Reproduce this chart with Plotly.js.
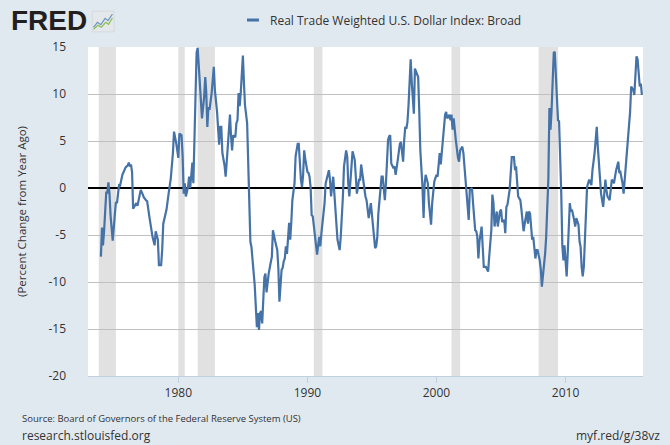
<!DOCTYPE html>
<html>
<head>
<meta charset="utf-8">
<script src="https://cdn.plot.ly/plotly-3.0.1.min.js"></script>
<style>
html,body{margin:0;padding:0;background:#e1e9f0;}
#chart{width:670px;height:445px;}
</style>
</head>
<body>
<div id="chart"></div>
<script>
// Months (first of month) and year-over-year percent change
var dates = [
'1974-01','1974-02','1974-03','1974-04','1974-06','1974-07','1974-08','1974-09','1974-10','1974-12',
'1975-03','1975-04','1975-06','1975-07','1975-09','1975-10','1975-12',
'1976-02','1976-03','1976-04','1976-05','1976-06','1976-07','1976-08','1976-10','1976-11','1976-12',
'1977-02','1977-04','1977-05','1977-07','1977-08','1977-10','1977-12',
'1978-01','1978-03','1978-04','1978-06','1978-07','1978-09','1978-10','1978-11',
'1979-02','1979-04','1979-05','1979-06','1979-08','1979-09','1979-11',
'1980-01','1980-02','1980-04','1980-05','1980-06','1980-07','1980-08','1980-10','1980-11','1980-12',
'1981-02','1981-03','1981-04','1981-05','1981-06','1981-07','1981-08','1981-10','1981-11',
'1982-01','1982-02','1982-03','1982-04','1982-05','1982-06','1982-08','1982-09','1982-10','1982-11',
'1983-01','1983-03','1983-04','1983-05','1983-06','1983-08','1983-09','1983-11',
'1984-01','1984-02','1984-03','1984-04','1984-06','1984-07','1984-08','1984-09','1984-10','1984-11',
'1985-01','1985-02','1985-03','1985-05','1985-06','1985-07','1985-08','1985-09','1985-12',
'1986-02','1986-03','1986-04','1986-05','1986-06','1986-07','1986-08','1986-09','1986-10','1986-11',
'1987-01','1987-02','1987-03','1987-04','1987-05','1987-07','1987-09','1987-10','1987-11',
'1988-01','1988-02','1988-03','1988-04','1988-05','1988-06','1988-08','1988-09','1988-10','1988-11',
'1989-01','1989-02','1989-04','1989-05','1989-07','1989-08','1989-09','1989-10','1989-11',
'1990-01','1990-02','1990-03','1990-04','1990-05','1990-06','1990-08','1990-09','1990-10','1990-12',
'1991-01','1991-02','1991-04','1991-05','1991-06','1991-07','1991-09','1991-10','1991-11',
'1992-01','1992-02','1992-04','1992-05','1992-07','1992-08','1992-10','1992-11',
'1993-01','1993-02','1993-03','1993-04','1993-06','1993-07','1993-09','1993-10','1993-11',
'1994-01','1994-02','1994-03','1994-04','1994-06','1994-07','1994-08','1994-09','1994-10','1994-12',
'1995-01','1995-02','1995-03','1995-04','1995-05','1995-06','1995-07','1995-09','1995-10','1995-11','1995-12',
'1996-01','1996-02','1996-04','1996-05','1996-06','1996-07','1996-09','1996-10','1996-11',
'1997-01','1997-03','1997-04','1997-06','1997-07','1997-08','1997-09','1997-10','1997-11',
'1998-01','1998-02','1998-03','1998-04','1998-05','1998-06','1998-08','1998-09','1998-10','1998-12',
'1999-01','1999-02','1999-03','1999-05','1999-06','1999-08','1999-09','1999-11',
'2000-01','2000-02','2000-04','2000-05','2000-06','2000-07','2000-09','2000-10','2000-11',
'2001-01','2001-02','2001-03','2001-04','2001-05','2001-06','2001-07','2001-09','2001-10','2001-11',
'2002-01','2002-02','2002-03','2002-04','2002-05','2002-07','2002-08','2002-10','2002-11','2002-12',
'2003-01','2003-02','2003-03','2003-04','2003-05','2003-07','2003-08','2003-09','2003-11',
'2004-01','2004-02','2004-04','2004-05','2004-06','2004-07','2004-08','2004-09','2004-10','2004-12',
'2005-01','2005-02','2005-04','2005-05','2005-06','2005-07','2005-09','2005-10','2005-11',
'2006-01','2006-02','2006-03','2006-04','2006-05','2006-06','2006-07','2006-08','2006-10','2006-11',
'2007-01','2007-02','2007-03','2007-04','2007-05','2007-06','2007-07','2007-09','2007-10','2007-11',
'2008-01','2008-02','2008-03','2008-04','2008-05','2008-06','2008-07','2008-09','2008-10','2008-11','2008-12',
'2009-01','2009-02','2009-03','2009-04','2009-05','2009-06','2009-07','2009-08','2009-09','2009-10','2009-11','2009-12',
'2010-01','2010-02','2010-03','2010-05','2010-06','2010-07','2010-09','2010-10','2010-11',
'2011-01','2011-02','2011-03','2011-04','2011-05','2011-06','2011-07','2011-09','2011-10','2011-11',
'2012-01','2012-02','2012-04','2012-05','2012-06','2012-07','2012-09','2012-10','2012-12',
'2013-01','2013-02','2013-03','2013-04','2013-06','2013-07','2013-08','2013-10','2013-11','2013-12',
'2014-02','2014-03','2014-04','2014-05','2014-06','2014-07','2014-08','2014-10','2014-11','2014-12',
'2015-01','2015-02','2015-04','2015-05','2015-06','2015-07','2015-08','2015-09','2015-10','2015-11','2015-12'
];
var values = [
-7.3,-4.2,-6.1,-4.6,-0.5,-0.5,0.6,-0.6,-2.9,-5.6,
-1.5,-1.6,0.4,0.3,1.4,1.7,2.2,
2.4,2.7,2.3,2.5,1.7,-2.2,-2.0,-1.6,-1.9,-1.4,
-0.2,-0.7,-1.0,-1.3,-1.4,-3.0,-4.8,
-5.2,-6.1,-4.6,-5.5,-8.2,-8.2,-6.6,-3.8,
-2.3,-0.6,0.0,1.0,3.7,6.0,4.8,
3.2,5.8,5.6,3.5,-0.6,0.5,-0.9,0.1,1.2,0.0,
2.7,0.5,5.8,11.2,14.4,14.9,12.9,9.7,7.4,
9.7,11.8,10.2,6.5,8.6,8.3,10.1,11.8,12.9,10.4,
8.1,4.6,6.5,6.5,3.7,2.4,1.2,4.4,
7.8,5.5,4.0,5.6,5.4,6.9,7.2,10.1,8.7,10.1,
14.1,11.1,8.8,6.9,2.1,0.1,-5.7,-6.3,-10.3,
-14.8,-13.3,-15.1,-13.3,-13.1,-14.4,-11.9,-9.5,-9.1,-11.1,
-9.1,-8.2,-7.9,-7.3,-4.5,-5.6,-6.6,-8.5,-12.1,
-8.7,-8.5,-7.8,-7.5,-6.2,-7.0,-3.7,-5.5,-3.7,-1.3,
0.5,3.4,4.7,4.7,0.9,0.1,1.4,4.0,3.1,
1.7,1.6,1.2,0.1,-2.9,-3.0,-5.2,-6.6,-7.1,-5.2,
-6.2,-4.8,-3.0,-1.6,0.5,0.9,1.9,0.9,-0.9,
1.2,-0.5,-3.4,-5.5,-6.6,-5.2,-0.9,2.3,
4.0,3.3,0.5,-0.9,2.3,3.9,3.0,1.2,-0.6,
0.9,0.9,2.5,1.6,0.1,-0.9,-1.3,-2.7,-3.2,-1.6,
-2.7,-3.8,-5.5,-6.4,-6.2,-5.2,-2.7,-0.2,1.2,1.2,-0.6,
-1.3,0.5,5.1,5.5,5.6,2.6,2.1,2.3,1.4,
3.0,4.7,4.9,2.8,5.1,6.5,6.3,7.0,8.8,
13.7,11.2,8.8,7.9,12.7,12.3,11.8,8.1,4.0,0.1,
-3.2,0.5,1.4,0.5,-1.6,-3.9,-1.6,0.7,
1.4,1.2,3.7,2.5,3.7,5.5,7.8,8.1,7.4,
7.8,7.2,7.8,6.2,7.4,5.8,5.1,3.2,2.8,4.0,
4.4,3.7,2.3,1.7,0.1,-3.4,-0.2,0.0,-1.6,-3.0,
-4.5,-4.6,-5.2,-7.5,-5.7,-4.1,-6.2,-8.4,-8.4,
-8.9,-7.3,-4.5,-0.7,-1.6,-4.1,-3.4,-2.5,-4.1,-2.5,
-2.3,-3.6,-3.4,-4.8,-2.0,-1.8,-0.2,1.9,3.3,
3.3,1.9,2.3,0.1,-0.9,-1.1,-1.3,-2.3,-4.6,-3.8,
-2.5,-3.8,-2.5,-2.7,-3.8,-5.5,-5.2,-7.5,-6.6,-6.6,
-7.7,-8.7,-10.5,-9.4,-8.2,-7.0,-5.2,1.0,8.5,6.2,8.3,
11.2,14.4,14.5,11.5,8.3,7.2,7.1,3.7,-0.6,-6.1,-7.7,-6.1,
-7.7,-9.4,-7.1,-1.6,-2.5,-2.3,-3.4,-4.1,-3.2,
-3.9,-5.7,-6.2,-8.4,-9.4,-8.4,-5.2,0.1,0.5,0.9,
0.3,1.9,3.7,5.8,6.5,4.4,1.4,-0.6,-2.0,
-0.6,0.9,-0.2,-0.9,-1.3,0.1,0.9,0.5,1.2,1.9,
2.8,1.6,1.7,1.2,0.5,-0.6,0.9,4.0,4.9,7.0,
8.1,10.8,10.4,9.9,11.8,14.0,13.7,11.8,10.8,11.1,9.9
];
// NBER recessions (shaded)
var recessionStarts = ['1973-11-01','1980-01-01','1981-07-01','1990-07-01','2001-03-01','2007-12-01'];
var recessionEnds   = ['1975-03-01','1980-07-01','1982-11-01','1991-03-01','2001-11-01','2009-06-01'];
var yTicks = [-20,-15,-10,-5,0,5,10,15];
var xTickVals = ['1980-01-01','1990-01-01','2000-01-01','2010-01-01'];
var xTickText = ['1980','1990','2000','2010'];
var seriesName = 'Real Trade Weighted U.S. Dollar Index: Broad';

var lineColor = '#4572a7';
var font = 'Open Sans, Liberation Sans, sans-serif';

var shapes = recessionStarts.map(function(s,i){
  return {type:'rect', xref:'x', yref:'paper', x0:s, x1:recessionEnds[i], y0:0, y1:1,
          fillcolor:'#e1e1e1', line:{width:0}, layer:'below'};
});
// legend swatch
shapes.push({type:'line', xref:'paper', yref:'paper', x0:0.2865, x1:0.308, y0:1.082, y1:1.082,
             line:{color:lineColor, width:3}});
// FRED logo icon
shapes.push({type:'rect', xref:'paper', yref:'paper', x0:0.0075, x1:0.047, y0:1.046, y1:1.109,
             fillcolor:'#e4e8eb', line:{color:'#d4d9de', width:1}});
shapes.push({type:'path', xref:'paper', yref:'paper',
             path:'M 0.010 1.060 L 0.017 1.075 L 0.023 1.068 L 0.031 1.087 L 0.036 1.080 L 0.044 1.100',
             line:{color:'#6f94c0', width:1.2}});
shapes.push({type:'path', xref:'paper', yref:'paper',
             path:'M 0.010 1.054 L 0.018 1.066 L 0.024 1.060 L 0.032 1.075 L 0.037 1.069 L 0.044 1.088',
             line:{color:'#8dbf4e', width:1.2}});

var data = [{
  x: dates, y: values, type:'scatter', mode:'lines', name: seriesName,
  line:{color:lineColor, width:2.2}, showlegend:false, hoverinfo:'skip'
}];

var layout = {
  width:670, height:445,
  paper_bgcolor:'#e1e9f0', plot_bgcolor:'#ffffff',
  margin:{l:88, r:27, t:47, b:69},
  font:{family:font, color:'#333333', size:12},
  showlegend:false,
  xaxis:{
    type:'date', range:['1973-01-01','2016-01-01'],
    tickvals:xTickVals, ticktext:xTickText,
    showgrid:false, zeroline:false,
    showline:true, linecolor:'#c0d0e0', linewidth:1,
    ticks:'outside', ticklen:6, tickcolor:'#c0d0e0', tickwidth:1,
    tickfont:{family:font, size:12, color:'#333333'}
  },
  yaxis:{
    range:[-20,15], tickvals:yTicks, ticktext:yTicks.map(String),
    showgrid:true, gridcolor:'#c0c0c0', gridwidth:1,
    zeroline:true, zerolinecolor:'#000000', zerolinewidth:2.5,
    showline:false, ticks:'', ticklabelstandoff:21,
    tickfont:{family:font, size:12, color:'#333333'},
    title:{text:'(Percent Change from Year Ago)', standoff:19,
           font:{family:font, size:11.5, color:'#333333'}}
  },
  shapes: shapes,
  annotations:[
    {xref:'paper', yref:'paper', x:0.324, y:1.082, xanchor:'left', yanchor:'middle',
     text:seriesName, showarrow:false, font:{family:font, size:12, color:'#333333'}},
    {xref:'paper', yref:'paper', x:-0.142, y:1.080, xanchor:'left', yanchor:'middle',
     text:'<b>FRED</b>', showarrow:false,
     font:{family:'Liberation Sans, Arial, sans-serif', size:28, color:'#231f20'}},
    {xref:'paper', yref:'paper', x:-0.1225, y:-0.130, xanchor:'left', yanchor:'middle',
     text:'Source: Board of Governors of the Federal Reserve System (US)', showarrow:false,
     font:{family:font, size:9.5, color:'#333333'}},
    {xref:'paper', yref:'paper', x:-0.1225, y:-0.180, xanchor:'left', yanchor:'middle',
     text:'research.stlouisfed.org', showarrow:false,
     font:{family:font, size:12, color:'#333333'}},
    {xref:'paper', yref:'paper', x:1.034, y:-0.180, xanchor:'right', yanchor:'middle',
     text:'myf.red/g/38vz', showarrow:false,
     font:{family:font, size:12, color:'#333333'}}
  ]
};

Plotly.newPlot('chart', data, layout, {displayModeBar:false, staticPlot:true});
</script>
</body>
</html>
